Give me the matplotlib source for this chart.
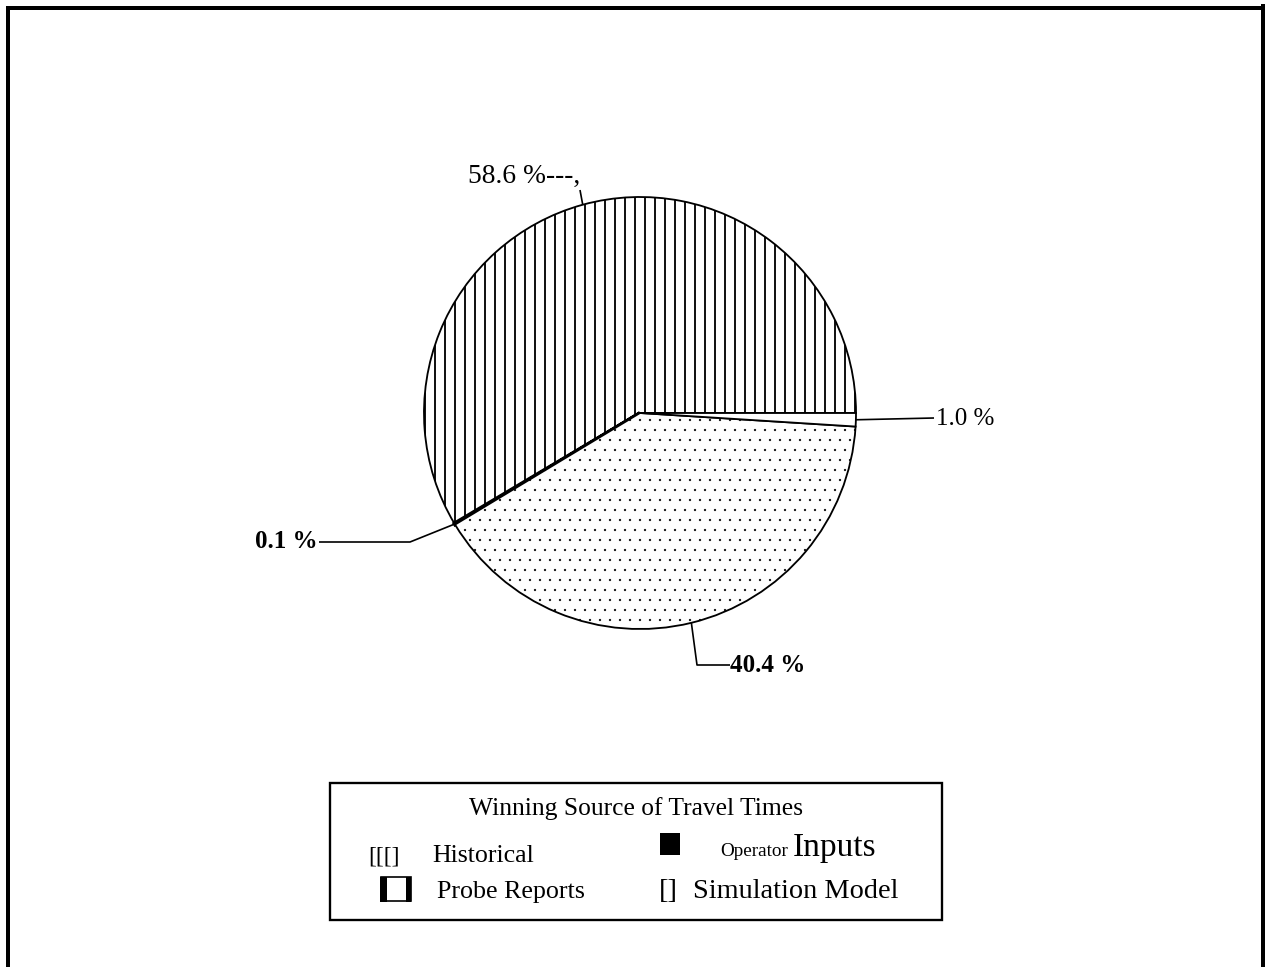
import matplotlib
matplotlib.use('Agg')
import matplotlib.pyplot as plt
from matplotlib.patches import Rectangle
import numpy as np

# ---- data ----
categories = ['Historical', 'Operator Inputs', 'Probe Reports', 'Simulation Model']
shares = [58.6, 0.1, 40.4, 1.0]
share_labels = ['58.6 %---,', '0.1 %', '40.4 %', '1.0 %']
legend_title = 'Winning Source of Travel Times'
slice_colors = ['white', 'black', 'white', 'white']
slice_hatches = ['||', '', '..', '']

plt.rcParams['font.family'] = ['Liberation Serif', 'DejaVu Serif']
plt.rcParams['hatch.linewidth'] = 1.1

W, H, DPI = 1272, 967, 120
fig = plt.figure(figsize=(W / DPI, H / DPI), dpi=DPI)
ax = fig.add_axes([0, 0, 1, 1])

cx, cy, r = 640, 413, 216
wedges, _ = ax.pie(shares, startangle=0, counterclock=False, center=(cx, cy),
                   radius=r, colors=slice_colors, hatch=slice_hatches,
                   wedgeprops=dict(edgecolor='black', linewidth=1.1),
                   frame=True)
if hasattr(wedges[2], 'set_hatch_linewidth'):
    wedges[2].set_hatch_linewidth(0.15)
wedges[1].set_linewidth(2.2)
ax.set_xlim(0, W)
ax.set_ylim(H, 0)
ax.set_aspect('auto')
ax.axis('off')


def anchor(i):
    w = wedges[i]
    mid = np.deg2rad((w.theta1 + w.theta2) / 2)
    return cx + r * np.cos(mid), cy + r * np.sin(mid)


lk = dict(color='black', lw=1.0, solid_capstyle='butt')

# Historical label
ax0 = anchor(0)
ax.text(468, 183, share_labels[0], fontsize=16.5, ha='left', va='baseline')
ax.plot([580, ax0[0]], [190, ax0[1]], **lk)

# Operator inputs label (0.1 %)
a1 = anchor(1)
ax.text(318, 548, share_labels[1], fontsize=15, fontweight='bold', ha='right', va='baseline')
ax.plot([319, 410, a1[0]], [542, 542, a1[1]], **lk)

# Probe reports label (40.4 %)
a2 = anchor(2)
ax.text(730, 672, share_labels[2], fontsize=15, fontweight='bold', ha='left', va='baseline')
ax.plot([a2[0], 697, 730], [a2[1], 665, 665], **lk)

# Simulation model label (1.0 %)
a3 = anchor(3)
ax.text(936, 425, share_labels[3], fontsize=15, ha='left', va='baseline')
ax.plot([a3[0], 934], [a3[1], 418], **lk)

# ---- legend box ----
ax.add_patch(Rectangle((330, 783), 612, 137, fill=False, edgecolor='black', lw=1.4))
ax.text(636, 815, legend_title, fontsize=15.3, ha='center', va='baseline')

# Historical
ax.text(368, 862, '[[[]', fontsize=14, ha='left', va='baseline')
ax.text(432, 862, categories[0], fontsize=15.5, ha='left', va='baseline')

# Operator inputs
ax.add_patch(Rectangle((660, 833), 20, 22, facecolor='black', edgecolor='black', lw=0))
ax.text(720, 856, 'Operator', fontsize=11.5, ha='left', va='baseline')
ax.text(793, 856, 'Inputs', fontsize=20, ha='left', va='baseline')

# Probe reports
ax.add_patch(Rectangle((381, 877), 30, 24, fill=False, edgecolor='black', lw=1.0))
ax.add_patch(Rectangle((380, 877), 7, 25, facecolor='black', lw=0))
ax.add_patch(Rectangle((406, 877), 5, 25, facecolor='black', lw=0))
ax.text(437, 898, 'Probe Reports', fontsize=15.6, ha='left', va='baseline')

# Simulation model
ax.text(659, 898, '[]', fontsize=17, ha='left', va='baseline')
ax.text(693, 898, categories[3], fontsize=17, ha='left', va='baseline')

# ---- page frame ----
fk = dict(color='black', lw=2.4, solid_capstyle='butt')
ax.plot([6, 1265], [8, 8], **fk)
ax.plot([8, 8], [6, H], **fk)
ax.plot([1263, 1263], [4, H], **fk)

fig.savefig('out.png', dpi=DPI, facecolor='white')
